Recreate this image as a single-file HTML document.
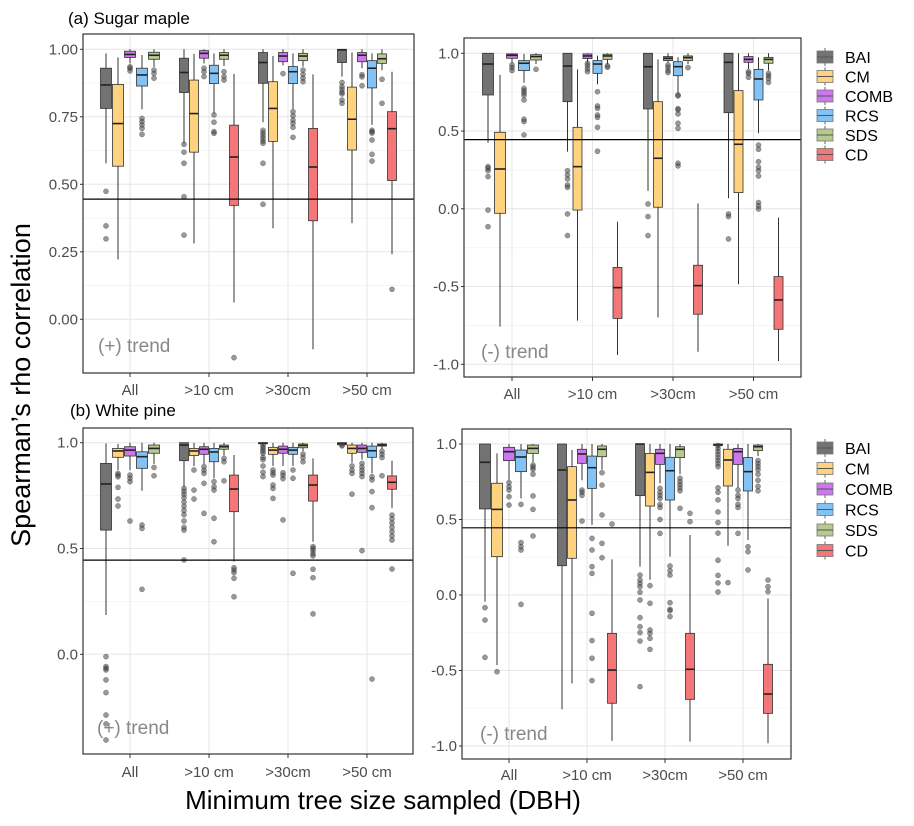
<!DOCTYPE html>
<html><head><meta charset="utf-8">
<style>
body{margin:0;background:#fff;}
svg text{font-family:"Liberation Sans",Arial,sans-serif;}
</style></head>
<body>
<svg id="chart" width="914" height="821" viewBox="0 0 914 821" xmlns="http://www.w3.org/2000/svg">
<rect width="914" height="821" fill="#fff"/>
<g id="layer"></g>
<text x="68" y="24" font-size="17" fill="#000">(a) Sugar maple</text>
<text x="70" y="416" font-size="17" fill="#000">(b) White pine</text>
<text transform="translate(30,385) rotate(-90)" text-anchor="middle" font-size="27" fill="#000">Spearman’s rho correlation</text>
<text x="383" y="809" text-anchor="middle" font-size="26" fill="#000">Minimum tree size sampled (DBH)</text>
</svg>
<script>
const categories = ["All", ">10 cm", ">30cm", ">50 cm"];
const seriesNames = ["BAI", "CM", "COMB", "RCS", "SDS", "CD"];
const seriesColors = ["#737373", "#FFD27F", "#CC77EE", "#82C2F5", "#B6C98F", "#F47678"];

const sugarPosBAI = [[0.578,0.781,0.868,0.93,0.985,[0.474,0.346,0.298]],[0.652,0.84,0.914,0.967,1.0,[0.648,0.619,0.578,0.454,0.312]],[0.73,0.874,0.951,0.988,1.0,[0.70,0.69,0.68,0.67,0.66,0.652,0.578,0.426]],[0.899,0.951,0.998,1.0,1.0,[0.877,0.862,0.852,0.841,0.835,0.812,0.8]]];
const sugarPosCM = [[0.222,0.567,0.725,0.87,0.97,[]],[0.281,0.619,0.762,0.886,0.983,[]],[0.337,0.659,0.781,0.88,0.975,[]],[0.356,0.627,0.741,0.86,0.988,[]]];
const sugarPosCOMB = [[0.948,0.97,0.981,0.993,1.0,[0.935,0.93,0.92]],[0.948,0.967,0.985,0.995,1.0,[0.93,0.917,0.899]],[0.94,0.954,0.975,0.988,1.0,[0.91]],[0.93,0.954,0.978,0.988,1.0,[0.906,0.898,0.865]]];
const sugarPosRCS = [[0.778,0.864,0.905,0.93,0.979,[0.744,0.732,0.72,0.707,0.685]],[0.763,0.873,0.911,0.941,0.985,[0.757,0.73,0.695,0.689]],[0.779,0.873,0.917,0.936,0.985,[0.769,0.754,0.738,0.726,0.711,0.674]],[0.72,0.857,0.93,0.958,0.985,[0.70,0.695,0.69,0.664,0.611,0.586]]];
const sugarPosSDS = [[0.935,0.963,0.978,0.989,1.0,[0.923,0.911,0.893]],[0.938,0.963,0.978,0.988,1.0,[0.917,0.899,0.886]],[0.936,0.958,0.975,0.985,1.0,[0.923,0.907,0.893,0.88]],[0.923,0.948,0.965,0.983,1.0,[0.889,0.8]]];
const sugarPosCD = [null,[0.062,0.422,0.601,0.719,0.909,[-0.142]],[-0.111,0.365,0.564,0.707,0.907,[]],[0.241,0.514,0.706,0.769,0.917,[0.111]]];

const sugarNegBAI = [[0.425,0.732,0.931,1.0,1.0,[0.271,0.26,0.245,0.207,-0.008,-0.115]],[0.368,0.689,0.918,1.0,1.0,[0.245,0.218,0.192,0.153,0.138,-0.033,-0.172]],[0.115,0.642,0.914,1.0,1.0,[0.031,-0.05,-0.172]],[0.068,0.618,0.942,1.0,1.0,[-0.033,-0.05,-0.194]]];
const sugarNegCM = [[-0.758,-0.029,0.256,0.492,0.861,[]],[-0.719,-0.008,0.271,0.524,0.897,[]],[-0.698,0.01,0.325,0.689,0.961,[]],[-0.485,0.104,0.415,0.76,1.0,[]]];
const sugarNegCOMB = [[0.936,0.968,0.987,0.996,1.0,[0.925,0.908,0.889]],[0.94,0.966,0.983,0.996,1.0,[0.936,0.92,0.9,0.882]],[0.94,0.953,0.968,0.979,1.0,[0.925,0.91,0.89,0.876]],[0.9,0.942,0.961,0.979,1.0,[0.882,0.87,0.846]]];
const sugarNegRCS = [[0.811,0.889,0.936,0.953,0.996,[0.775,0.76,0.745,0.73,0.7,0.576,0.561,0.475]],[0.8,0.871,0.931,0.953,0.985,[0.753,0.661,0.646,0.603,0.588,0.524,0.37]],[0.743,0.856,0.914,0.946,0.975,[0.732,0.726,0.644,0.636,0.61,0.55,0.518,0.293,0.276]],[0.486,0.7,0.835,0.897,0.975,[0.41,0.383,0.303,0.267,0.245,0.211,0.04,0.018,-0.001]]];
const sugarNegSDS = [[0.93,0.957,0.979,0.991,1.0,[0.897]],[0.93,0.961,0.983,0.994,1.0,[0.92,0.91]],[0.93,0.953,0.972,0.983,1.0,[0.908]],[0.89,0.936,0.961,0.974,1.0,[0.871,0.855,0.838,0.813]]];
const sugarNegCD = [null,[-0.94,-0.705,-0.507,-0.377,-0.083,[]],[-0.919,-0.678,-0.494,-0.363,0.035,[]],[-0.979,-0.775,-0.586,-0.436,-0.057,[]]];

const pinePosBAI = [[0.186,0.587,0.805,0.902,0.997,[-0.011,-0.058,-0.066,-0.074,-0.121,-0.181,-0.287,-0.329,-0.405]],[0.792,0.915,0.989,1.0,1.0,[0.784,0.77,0.756,0.74,0.72,0.70,0.68,0.66,0.63,0.6,0.587,0.446]],[0.985,0.995,0.998,1.0,1.0,[0.99,0.98,0.97,0.96,0.95,0.93,0.92,0.89,0.86,0.84]],[0.985,0.99,0.997,1.0,1.0,[0.99,0.985]]];
const pinePosCM = [[0.871,0.931,0.961,0.973,0.994,[0.855,0.847,0.839,0.789,0.734,0.701]],[0.89,0.939,0.961,0.973,1.0,[0.871,0.776,0.734]],[0.89,0.945,0.965,0.978,1.0,[0.871,0.858,0.847,0.8,0.784,0.737]],[0.905,0.95,0.973,0.989,1.0,[0.89,0.87,0.855,0.757]]];
const pinePosCOMB = [[0.87,0.937,0.965,0.981,1.0,[0.847,0.832,0.816,0.63]],[0.9,0.945,0.969,0.981,1.0,[0.887,0.87,0.855,0.808,0.666]],[0.89,0.95,0.969,0.984,1.0,[0.858,0.845,0.83,0.635]],[0.92,0.954,0.973,0.989,1.0,[0.902,0.885,0.87,0.855,0.84,0.49]]];
const pinePosRCS = [[0.773,0.879,0.934,0.957,1.0,[0.611,0.595,0.307]],[0.832,0.91,0.956,0.973,1.0,[0.816,0.792,0.776,0.643,0.532]],[0.89,0.945,0.965,0.978,1.0,[0.871,0.832,0.383]],[0.855,0.931,0.962,0.984,1.0,[0.839,0.824,0.769,0.693,-0.117]]];
const pinePosSDS = [[0.9,0.95,0.973,0.989,1.0,[0.883,0.844]],[0.94,0.969,0.981,0.989,1.0,[0.926,0.91,0.82]],[0.96,0.976,0.987,0.994,1.0,[0.946,0.93,0.91]],[0.97,0.984,0.989,0.994,1.0,[0.96,0.945,0.93,0.844]]];
const pinePosCD = [null,[0.438,0.674,0.781,0.847,0.942,[0.409,0.398,0.386,0.359,0.272]],[0.532,0.724,0.8,0.847,0.926,[0.509,0.5,0.49,0.475,0.465,0.402,0.362,0.191]],[0.69,0.78,0.813,0.843,0.915,[0.658,0.64,0.62,0.6,0.58,0.56,0.54,0.403]]];

const pineNegBAI = [[-0.044,0.57,0.879,1.0,1.0,[-0.084,-0.166,-0.413]],[-0.757,0.194,0.828,1.0,1.0,[]],[0.188,0.658,1.0,1.0,1.0,[0.132,0.099,0.077,0.055,0.018,-0.033,-0.15,-0.21,-0.249,-0.305,-0.607]],[0.96,0.99,0.995,1.0,1.0,[0.99,0.97,0.95,0.93,0.91,0.89,0.87,0.85,0.71,0.68,0.63,0.55,0.48,0.41,0.23,0.13,0.08,0.02]]];
const pineNegCM = [[-0.464,0.254,0.567,0.74,0.938,[-0.508]],[-0.585,0.243,0.629,0.85,0.96,[]],[0.1,0.589,0.812,0.938,1.0,[0.062,-0.055,-0.232,-0.254,-0.287,-0.36]],[0.325,0.722,0.894,0.965,1.0,[0.082]]];
const pineNegCOMB = [[0.762,0.89,0.949,0.978,1.0,[0.744,0.717,0.695,0.651,0.596]],[0.76,0.872,0.934,0.965,1.0,[0.695,0.68,0.66,0.49]],[0.74,0.865,0.938,0.965,1.0,[0.706,0.68,0.66,0.64,0.6,0.58,0.5,0.408]],[0.71,0.865,0.949,0.971,1.0,[0.695,0.66,0.64,0.6,0.58,0.408]]];
const pineNegRCS = [[0.64,0.817,0.914,0.96,1.0,[0.6,0.347,0.32,0.298,-0.062]],[0.464,0.706,0.843,0.92,1.0,[0.375,0.298,0.188,0.143,-0.121,-0.302,-0.419,-0.567]],[0.254,0.629,0.823,0.912,1.0,[0.192,0.161,0.132,-0.051,-0.095,-0.104,-0.143]],[0.364,0.689,0.817,0.91,1.0,[0.32,0.287,0.166]]];
const pineNegSDS = [[0.88,0.938,0.971,0.993,1.0,[0.861,0.847,0.832,0.8,0.656,0.567,0.391]],[0.83,0.916,0.965,0.987,1.0,[0.81,0.728,0.53,0.342,0.247]],[0.8,0.91,0.965,0.982,1.0,[0.773,0.75,0.73,0.71,0.69,0.574]],[0.92,0.956,0.982,0.993,1.0,[0.89,0.87,0.85,0.83,0.8,0.76,0.72,0.69]]];
const pineNegCD = [null,[-0.965,-0.717,-0.497,-0.254,0.236,[0.47]],[-0.971,-0.691,-0.492,-0.254,0.397,[0.541,0.486]],[-0.982,-0.784,-0.656,-0.459,-0.022,[0.099,0.055,0.022]]];

const sugarPosTicks = [1.0, 0.75, 0.5, 0.25, 0.0];
const sugarPosTickLabels = ["1.00", "0.75", "0.50", "0.25", "0.00"];
const negTicks = [1.0, 0.5, 0.0, -0.5, -1.0];
const negTickLabels = ["1.0", "0.5", "0.0", "-0.5", "-1.0"];
const pinePosTicks = [1.0, 0.5, 0.0];
const pinePosTickLabels = ["1.0", "0.5", "0.0"];
const thresholdValue = 0.445;

const NS = "http://www.w3.org/2000/svg";
const layer = document.getElementById("layer");
function mk(tag, attrs, parent) {
  const e = document.createElementNS(NS, tag);
  for (const k in attrs) e.setAttribute(k, attrs[k]);
  (parent || layer).appendChild(e);
  return e;
}
function linScale(v1, p1, v2, p2) { return v => p1 + (v - v1) * (p2 - p1) / (v2 - v1); }

const panels = [
  {id:"sugar-positive", series:[sugarPosBAI,sugarPosCM,sugarPosCOMB,sugarPosRCS,sugarPosSDS,sugarPosCD], ticks:sugarPosTicks, labels:sugarPosTickLabels,
   x0:83,x1:414,y0:34,y1:373, xs:linScale(0,130,3,367), ys:linScale(1,49.3,0,319.3), trend:"(+) trend", tx:98, ty:352, xlabY:395},
  {id:"sugar-negative", series:[sugarNegBAI,sugarNegCM,sugarNegCOMB,sugarNegRCS,sugarNegSDS,sugarNegCD], ticks:negTicks, labels:negTickLabels,
   x0:464,x1:801,y0:38,y1:377, xs:linScale(0,512,3,753.5), ys:linScale(1,53.3,-1,364.3), trend:"(-) trend", tx:481, ty:358, xlabY:399},
  {id:"pine-positive", series:[pinePosBAI,pinePosCM,pinePosCOMB,pinePosRCS,pinePosSDS,pinePosCD], ticks:pinePosTicks, labels:pinePosTickLabels,
   x0:83,x1:413,y0:428,y1:754, xs:linScale(0,130,3,367), ys:linScale(1,442.7,0,654.3), trend:"(+) trend", tx:97, ty:734, xlabY:777},
  {id:"pine-negative", series:[pineNegBAI,pineNegCM,pineNegCOMB,pineNegRCS,pineNegSDS,pineNegCD], ticks:negTicks, labels:negTickLabels,
   x0:462,x1:791,y0:429,y1:759, xs:linScale(0,509,3,743), ys:linScale(1,444,-1,746), trend:"(-) trend", tx:480, ty:740, xlabY:780}
];

panels.forEach(p => {
  const g = mk("g", {});
  
  
  for (let i = 0; i < p.ticks.length - 1; i++) {
    const yv = p.ys((p.ticks[i] + p.ticks[i+1]) / 2);
    mk("line", {x1:p.x0,x2:p.x1,y1:yv,y2:yv,stroke:"#f3f3f3","stroke-width":0.8}, g);
  }
  p.ticks.forEach((t, i) => {
    const yv = p.ys(t);
    mk("line", {x1:p.x0,x2:p.x1,y1:yv,y2:yv,stroke:"#e6e6e6","stroke-width":1}, g);
    const lab = mk("text", {x:p.x0-5,y:yv+5,"text-anchor":"end","font-size":15,fill:"#4d4d4d"}, g);
    lab.textContent = p.labels[i];
    
    
    mk("line", {x1:p.x0-3,x2:p.x0,y1:yv,y2:yv,stroke:"#333","stroke-width":1}, g);
  });
  categories.forEach((c, i) => {
    const xv = p.xs(i);
    mk("line", {x1:xv,x2:xv,y1:p.y0,y2:p.y1,stroke:"#e6e6e6","stroke-width":1}, g);
    mk("line", {x1:xv,x2:xv,y1:p.y1,y2:p.y1+4,stroke:"#333","stroke-width":1}, g);
    const lab = mk("text", {x:xv,y:p.xlabY,"text-anchor":"middle","font-size":15,fill:"#4d4d4d"}, g);
    lab.textContent = c;
    
    
  });
  categories.forEach((c, ci) => {
    const present = p.series.map((s, si) => s[ci] ? si : -1).filter(si => si >= 0);
    const w = 60 / present.length;
    present.forEach((si, k) => {
      const d = p.series[si][ci];
      const cx = p.xs(ci) - 30 + w * (k + 0.5);
      const bg = mk("g", {}, g);
      
      
      mk("line", {x1:cx,x2:cx,y1:p.ys(d[4]),y2:p.ys(d[3]),stroke:"#333","stroke-width":1}, bg);
      mk("line", {x1:cx,x2:cx,y1:p.ys(d[1]),y2:p.ys(d[0]),stroke:"#333","stroke-width":1}, bg);
      mk("rect", {x:cx-w/2+0.5,y:p.ys(d[3]),width:w-1,height:Math.max(0.8,p.ys(d[1])-p.ys(d[3])),fill:seriesColors[si],stroke:"#333","stroke-width":0.8}, bg);
      mk("line", {x1:cx-w/2+0.5,x2:cx+w/2-0.5,y1:p.ys(d[2]),y2:p.ys(d[2]),stroke:"#222","stroke-width":1.6}, bg);
      d[5].forEach(o => {
        const pt = mk("circle", {cx:cx,cy:p.ys(o),r:2.6,fill:"#444","fill-opacity":0.55,stroke:"#333","stroke-opacity":0.5,"stroke-width":0.5}, bg);
        
        
      });
    });
  });
  const yt = p.ys(thresholdValue);
  const hl = mk("line", {x1:p.x0,x2:p.x1,y1:yt,y2:yt,stroke:"#000","stroke-width":1.2}, g);
  
  
  const fr = mk("rect", {x:p.x0,y:p.y0,width:p.x1-p.x0,height:p.y1-p.y0,fill:"none",stroke:"#333","stroke-width":1.2}, g);
  
  
  const tr = mk("text", {x:p.tx,y:p.ty,"font-size":19,fill:"#888"}, g);
  tr.textContent = p.trend;
  
  
});

[[57, 19.5], [448, 20.5]].forEach((L, li) => {
  const lg = mk("g", {});
  
  
  seriesNames.forEach((n, i) => {
    const y = L[0] + i * L[1];
    const e = mk("g", {}, lg);
    
    
    mk("line", {x1:825,x2:825,y1:y-9,y2:y+9,stroke:"#666","stroke-width":1}, e);
    mk("rect", {x:817,y:y-6,width:16,height:12,fill:seriesColors[i],stroke:"#777","stroke-width":0.8}, e);
    mk("line", {x1:817,x2:833,y1:y,y2:y,stroke:"#555","stroke-width":1}, e);
    const t = mk("text", {x:845,y:y+6,"font-size":16,fill:"#000"}, e);
    t.textContent = n;
  });
});
</script>
</body></html>
